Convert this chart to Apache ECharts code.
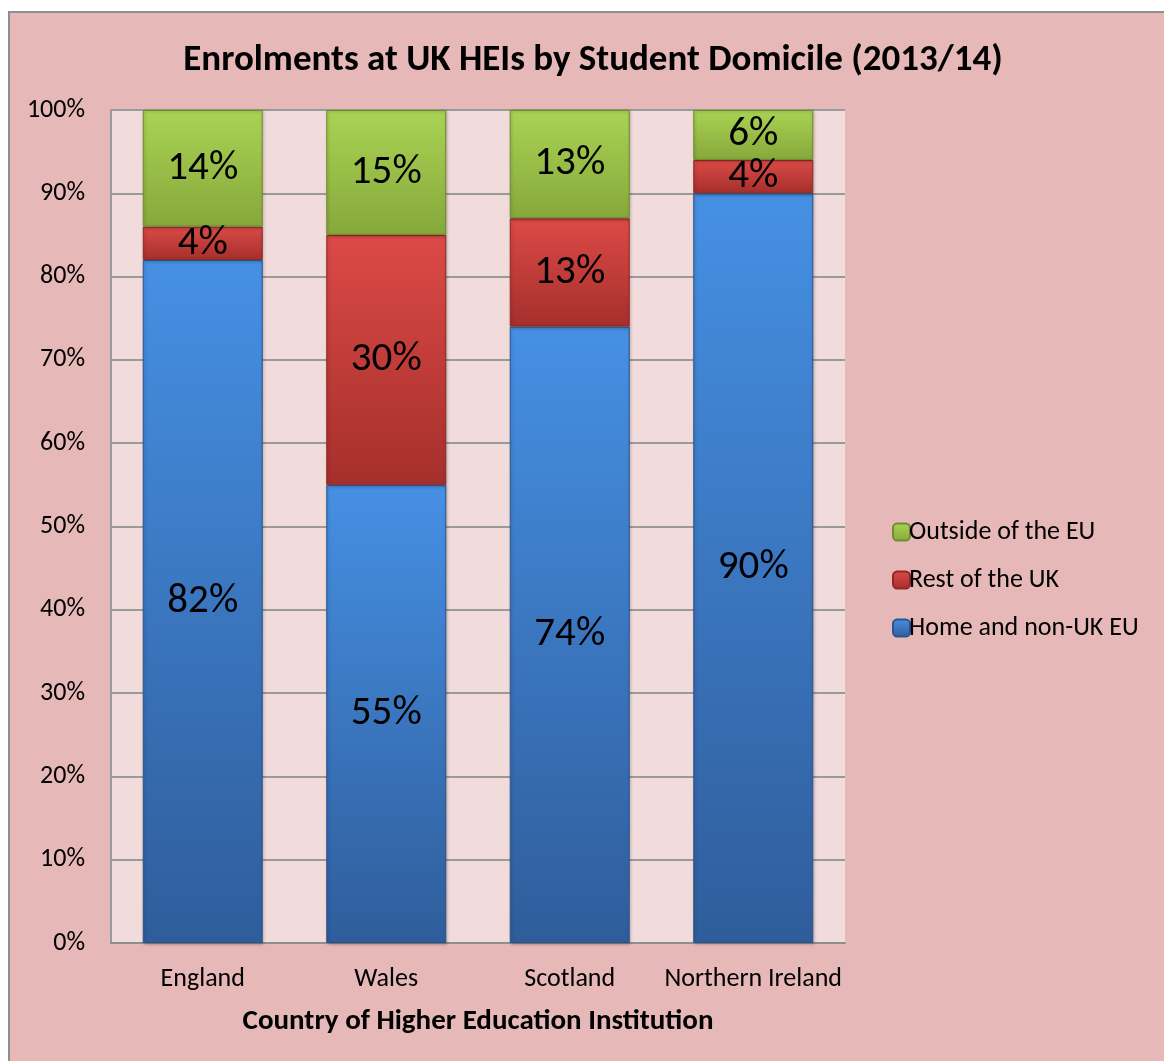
<!DOCTYPE html>
<html>
<head>
<meta charset="utf-8">
<title>Enrolments at UK HEIs by Student Domicile (2013/14)</title>
<script src="https://cdn.jsdelivr.net/npm/echarts@6/dist/echarts.min.js"></script>
<style>
  html, body { margin: 0; padding: 0; background: #ffffff; }
  #chart { width: 1164px; height: 1061px; }
</style>
</head>
<body>
<div id="chart"></div>
<script>
// Country of the institution (x axis)
const countries = ['England', 'Wales', 'Scotland', 'Northern Ireland'];

// Share of enrolments (%) by student domicile, per country
const homeEU = [82, 55, 74, 90];
const restUK = [4, 30, 13, 4];
const outsideEU = [14, 15, 13, 6];

const yTicks = [0, 10, 20, 30, 40, 50, 60, 70, 80, 90, 100];

const FONT = 'Carlito, Lato, "Open Sans", sans-serif';

function grad(top, bottom) {
  return new echarts.graphic.LinearGradient(0, 0, 0, 1, [
    { offset: 0, color: top },
    { offset: 1, color: bottom }
  ]);
}

const palette = {
  home: grad('#4690e4', '#2f5d9b'),
  rest: grad('#dc4a46', '#a52f2c'),
  outside: grad('#aad354', '#86a83b')
};
const edge = {
  home: '#2a5590',
  rest: '#8f2826',
  outside: '#6f8c2e'
};

function barSeries(name, values, key) {
  return {
    name: name,
    type: 'bar',
    stack: 'share',
    barWidth: 120,
    data: values,
    itemStyle: {
      color: palette[key],
      borderColor: edge[key],
      borderWidth: 1,
      shadowColor: 'rgba(0,0,0,0.25)',
      shadowBlur: 3,
      shadowOffsetX: 1,
      shadowOffsetY: 1
    },
    label: {
      show: true,
      position: 'inside',
      formatter: '{c}%',
      color: '#000',
      fontFamily: FONT,
      fontSize: 41
    },
    emphasis: { disabled: true }
  };
}

const chart = echarts.init(document.getElementById('chart'), null, { renderer: 'canvas' });

chart.setOption({
  backgroundColor: '#ffffff',
  animation: false,
  graphic: [
    {
      type: 'rect',
      z: -10,
      shape: { x: 9, y: 12, width: 1160, height: 1060 },
      style: { fill: '#e6b8b7', stroke: '#8f8f8f', lineWidth: 2 }
    }
  ],
  title: {
    text: 'Enrolments at UK HEIs by Student Domicile (2013/14)',
    left: 588,
    textAlign: 'center',
    top: 37,
    textStyle: {
      fontFamily: FONT,
      fontWeight: 'bold',
      fontSize: 37,
      color: '#000'
    }
  },
  legend: {
    orient: 'vertical',
    left: 887,
    top: 514,
    itemWidth: 17,
    itemHeight: 17,
    itemGap: 22,
    data: ['Outside of the EU', 'Rest of the UK', 'Home and non-UK EU'],
    textStyle: { fontFamily: FONT, fontSize: 26, color: '#000', padding: [0, 0, 0, -6] }
  },
  grid: {
    left: 111,
    right: 319,
    top: 110,
    bottom: 118,
    show: true,
    backgroundColor: '#f2dcdb',
    borderWidth: 0
  },
  xAxis: {
    type: 'category',
    data: countries,
    name: 'Country of Higher Education Institution',
    nameLocation: 'middle',
    nameGap: 64,
    nameTextStyle: { fontFamily: FONT, fontWeight: 'bold', fontSize: 29, color: '#000' },
    axisLine: { show: true, lineStyle: { color: '#8f8f8f', width: 2 } },
    axisTick: { show: false },
    axisLabel: { interval: 0, fontFamily: FONT, fontSize: 26, color: '#000', margin: 23 }
  },
  yAxis: {
    type: 'value',
    min: 0,
    max: 100,
    interval: 10,
    axisLine: { show: true, lineStyle: { color: '#9a9a9a', width: 2 } },
    axisTick: { show: false },
    splitLine: { show: true, lineStyle: { color: '#9a9a9a', width: 2 } },
    axisLabel: {
      fontFamily: FONT,
      fontSize: 26,
      color: '#000',
      margin: 26,
      formatter: function (v) { return yTicks.indexOf(v) >= 0 ? v + '%' : ''; }
    }
  },
  series: [
    barSeries('Home and non-UK EU', homeEU, 'home'),
    barSeries('Rest of the UK', restUK, 'rest'),
    barSeries('Outside of the EU', outsideEU, 'outside')
  ]
});
</script>
</body>
</html>
